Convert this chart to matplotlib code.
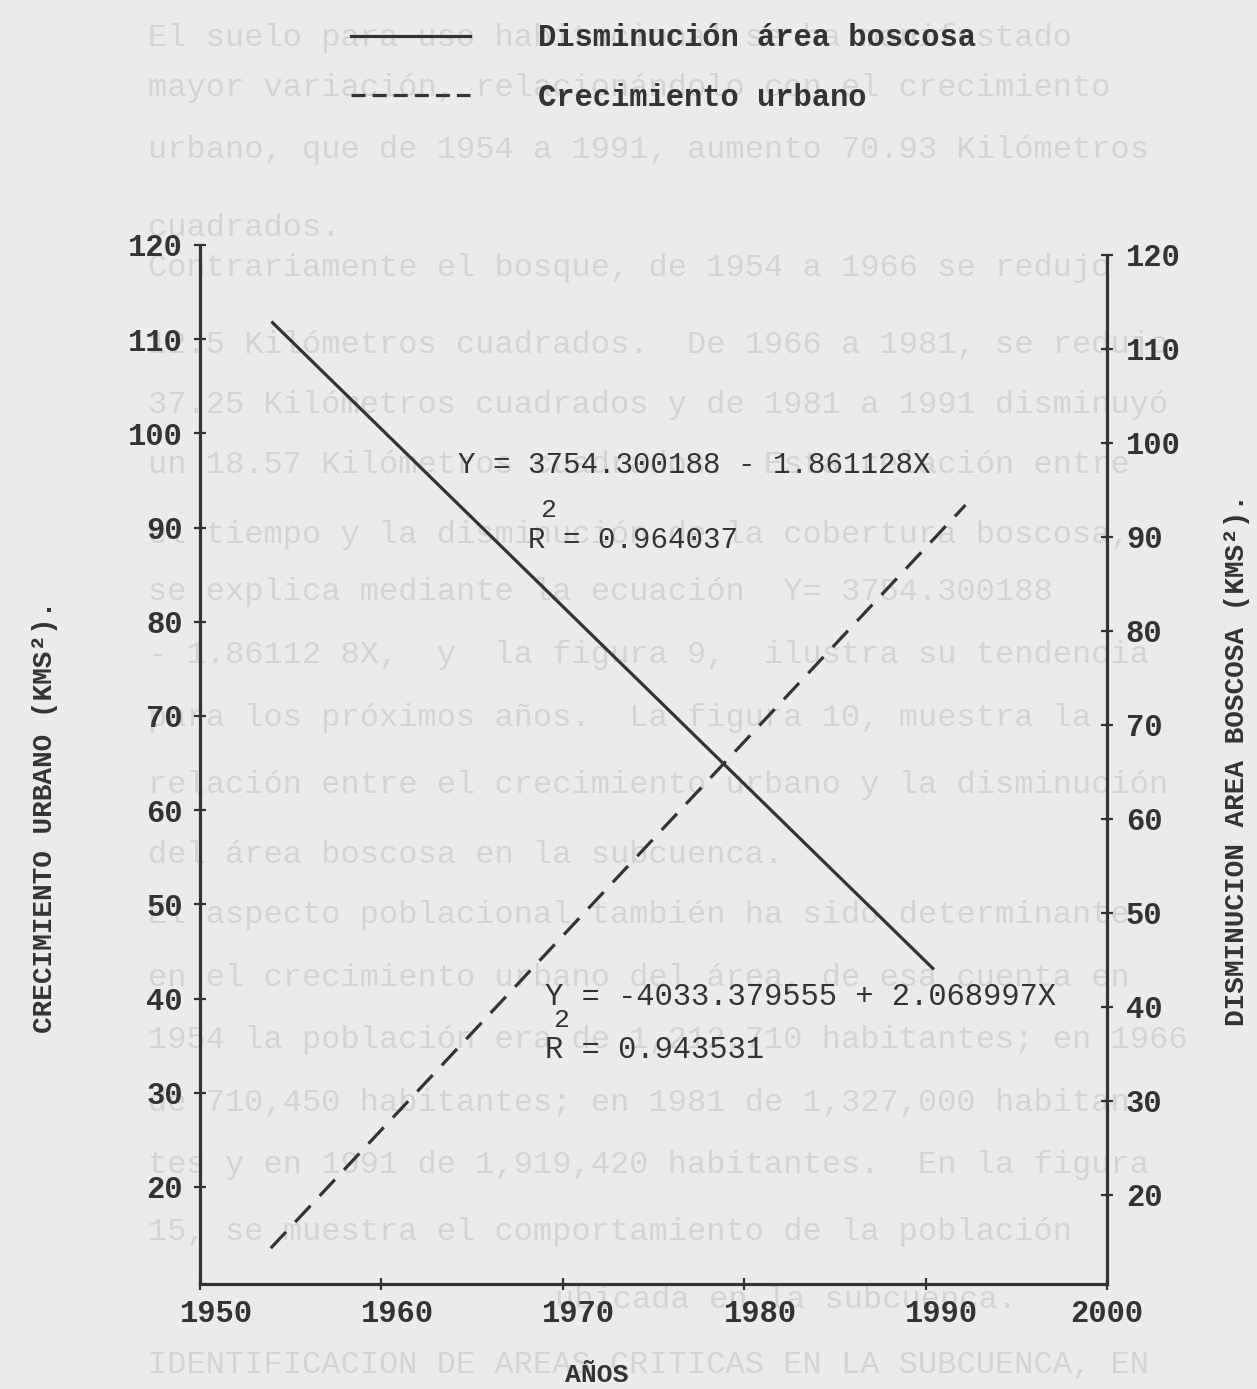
import matplotlib
matplotlib.use("Agg")
import matplotlib.pyplot as plt
from matplotlib.lines import Line2D
from matplotlib.transforms import ScaledTranslation

# ---------------- data ----------------
years_forest = [1954.0, 1990.4]
forest_decrease = [112.8, 44.1]          # right axis (km2)
years_urban = [1953.9, 1992.2]
urban_growth = [13.5, 92.4]              # left axis (km2)

x_ticks = [1950, 1960, 1970, 1980, 1990, 2000]
y_ticks = [20, 30, 40, 50, 60, 70, 80, 90, 100, 110, 120]

legend_labels = ["Disminución área boscosa", "Crecimiento urbano"]
eq_forest = "Y = 3754.300188 - 1.861128X"
r2_forest = "R = 0.964037"
eq_urban = "Y = -4033.379555 + 2.068997X"
r2_urban = "R = 0.943531"
xlabel = "AÑOS"
ylabel_left = "CRECIMIENTO URBANO (KMS²)."
ylabel_right = "DISMINUCION AREA BOSCOSA (KMS²)."

background_lines = [
    (148, 38, "El suelo para uso habitacional se ha manifestado"),
    (148, 88, "mayor variación, relacionándolo con el crecimiento"),
    (148, 150, "urbano, que de 1954 a 1991, aumento 70.93 Kilómetros"),
    (148, 228, "cuadrados."),
    (148, 268, "Contrariamente el bosque, de 1954 a 1966 se redujo"),
    (148, 345, "12.5 Kilómetros cuadrados.  De 1966 a 1981, se redujo"),
    (148, 405, "37.25 Kilómetros cuadrados y de 1981 a 1991 disminuyó"),
    (148, 465, "un 18.57 Kilómetros cuadrados.  Esta relación entre"),
    (148, 535, "el tiempo y la disminución de la cobertura boscosa,"),
    (148, 592, "se explica mediante la ecuación  Y= 3754.300188"),
    (148, 655, "- 1.86112 8X,  y  la figura 9,  ilustra su tendencia"),
    (148, 718, "para los próximos años.  La figura 10, muestra la"),
    (148, 785, "relación entre el crecimiento urbano y la disminución"),
    (148, 855, "del área boscosa en la subcuenca."),
    (148, 915, "El aspecto poblacional también ha sido determinante"),
    (148, 978, "en el crecimiento urbano del área, de esa cuenta en"),
    (148, 1040, "1954 la población era de 1,212,710 habitantes; en 1966"),
    (148, 1103, "de 710,450 habitantes; en 1981 de 1,327,000 habitan-"),
    (148, 1165, "tes y en 1991 de 1,919,420 habitantes.  En la figura"),
    (148, 1232, "15, se muestra el comportamiento de la población"),
    (555, 1300, "ubicada en la subcuenca."),
    (148, 1365, "IDENTIFICACION DE AREAS CRITICAS EN LA SUBCUENCA, EN"),
]

# ---------------- style ----------------
W, H = 1257, 1389
BG = "#ebebeb"
INK = "#333333"
FAINT = "#d3d3d3"
MONO = "Liberation Mono"

fig = plt.figure(figsize=(W / 100, H / 100), dpi=100, facecolor=BG)

def fx(px):
    return px / W

def fy(py):
    return 1 - py / H

# faint bleed-through page text
for x, y, s in background_lines:
    fig.text(fx(x), fy(y), s, color=FAINT, fontsize=23, family=MONO,
             ha="left", va="center", zorder=-5)

ax_left, ax_right_px, ax_top, ax_bot = 200, 1107, 245, 1284
ax = fig.add_axes([fx(ax_left), fy(ax_bot), (ax_right_px - ax_left) / W,
                   (ax_bot - ax_top) / H])
ax.set_facecolor("none")
ax2 = ax.twinx()
ax2.set_facecolor("none")

ax.set_xlim(1950, 2000)
ax.set_ylim(9.7, 120)
ax2.set_ylim(10.53, 121.06)

# lines
ax.plot(years_urban, urban_growth, color=INK, lw=2.3, linestyle=(0, (7, 4.2)),
        solid_capstyle="butt", dash_capstyle="butt")
ax2.plot(years_forest, forest_decrease, color=INK, lw=2.3)

# spines
for a in (ax, ax2):
    a.spines["top"].set_visible(False)
    for sp in a.spines.values():
        sp.set_color(INK)
        sp.set_linewidth(2.3)
ax.spines["right"].set_visible(False)
ax2.spines["left"].set_visible(False)
ax2.spines["bottom"].set_visible(False)
ax2.spines["right"].set_bounds(10.53, 120)

ax.set_xticks(x_ticks)
ax.set_xticklabels([str(v) for v in x_ticks])
ax.set_yticks(y_ticks)
ax.set_yticklabels([str(v) for v in y_ticks])
ax2.set_yticks(y_ticks)
ax2.set_yticklabels([str(v) for v in y_ticks])

ax.tick_params(axis="x", direction="inout", length=9, width=1.6, color=INK,
               labelsize=22, labelcolor=INK, pad=6)
ax.tick_params(axis="y", direction="inout", length=9, width=1.6, color=INK,
               labelsize=22, labelcolor=INK, pad=8)
ax2.tick_params(axis="y", direction="inout", length=9, width=1.6, color=INK,
                labelsize=22, labelcolor=INK, pad=9)
for lab in ax.get_xticklabels() + ax.get_yticklabels() + ax2.get_yticklabels():
    lab.set_family(MONO)
    lab.set_weight("bold")
shift = ScaledTranslation(16 / 100, 0, fig.dpi_scale_trans)
for lab in ax.get_xticklabels()[:-1]:
    lab.set_transform(lab.get_transform() + shift)

# axis titles
fig.text(fx(597), fy(1375), xlabel, fontsize=19, family=MONO, weight="bold",
         color=INK, ha="center", va="center")
fig.text(fx(45), fy(817), ylabel_left, fontsize=20, family=MONO, weight="bold",
         color=INK, ha="center", va="center", rotation=90)
fig.text(fx(1237), fy(760), ylabel_right, fontsize=20, family=MONO,
         weight="bold", color=INK, ha="center", va="center", rotation=90)

# equations
fig.text(fx(458), fy(465), eq_forest, fontsize=21, family=MONO, color=INK,
         ha="left", va="center")
fig.text(fx(528), fy(540), r2_forest, fontsize=21, family=MONO, color=INK,
         ha="left", va="center")
fig.text(fx(540), fy(510), "2", fontsize=19, family=MONO, color=INK,
         ha="left", va="center")
fig.text(fx(545), fy(997), eq_urban, fontsize=22, family=MONO, color=INK,
         ha="left", va="center")
fig.text(fx(545), fy(1050), r2_urban, fontsize=22, family=MONO, color=INK,
         ha="left", va="center")
fig.text(fx(553), fy(1020), "2", fontsize=19, family=MONO, color=INK,
         ha="left", va="center")

# legend
handles = [Line2D([], [], color=INK, lw=2.3),
           Line2D([], [], color=INK, lw=2.3, linestyle=(0, (4.4, 2.2)))]
leg = fig.legend(handles, legend_labels, loc="upper left",
                 bbox_to_anchor=(fx(323), fy(-4)), frameon=False,
                 handlelength=3.9, handletextpad=2.25, labelspacing=0.95,
                 prop={"family": MONO, "weight": "bold", "size": 22})
for t in leg.get_texts():
    t.set_color(INK)

fig.savefig("out.png", dpi=100, facecolor=BG)
